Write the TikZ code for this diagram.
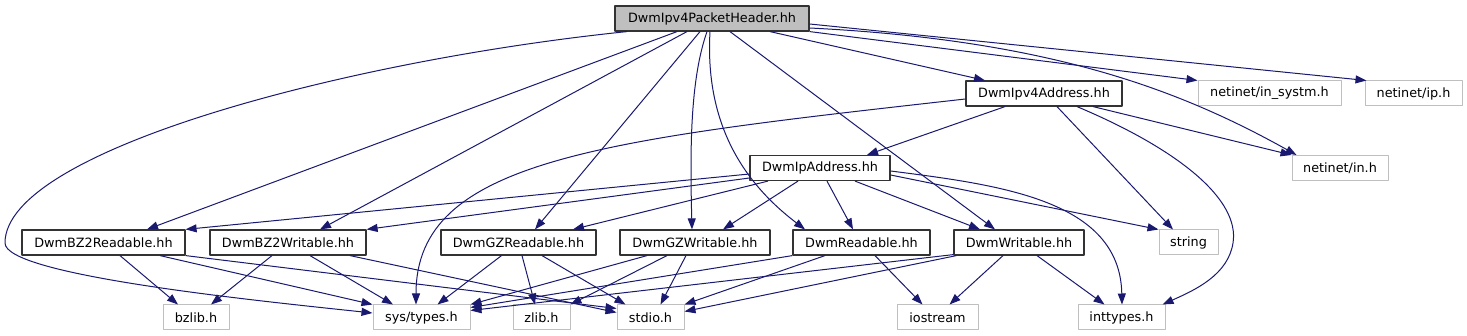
\documentclass[tikz,border=0pt]{standalone}
\usepackage{fontspec}
\setmainfont{DejaVu Sans}
\usetikzlibrary{arrows.meta}
\definecolor{edgeblue}{HTML}{191970}
\definecolor{boxgray}{HTML}{BFBFBF}

\begin{document}
\begin{tikzpicture}[x=1pt, y=-1pt, font=\fontsize{12.8}{15}\selectfont, line join=round,
	hdr/.style={draw=black!80, line width=1.2pt, rectangle, inner sep=0pt, minimum height=25pt, fill=white},
	sys/.style={hdr, draw=boxgray, line width=1pt},
	dep/.style={edgeblue, line width=1pt, -{Triangle[length=11pt, width=8pt]}}]

	\useasboundingbox (0,0) rectangle (1467,336);

	% --- headers ---
	\node[hdr, fill=boxgray, minimum width=194pt] (root) at (712,18.5) {DwmIpv4PacketHeader.hh};
	\node[hdr, minimum width=156pt] (ipv4) at (1044,93.5) {DwmIpv4Address.hh};
	\node[sys, minimum width=143pt] (insystm) at (1269.5,93.5) {netinet/in\_systm.h};
	\node[sys, minimum width=97pt] (ip) at (1413.5,93.5) {netinet/ip.h};
	\node[hdr, minimum width=140pt] (ipaddr) at (820,168) {DwmIpAddress.hh};
	\node[sys, minimum width=96pt] (in) at (1340,168) {netinet/in.h};

	\node[hdr, minimum width=163pt] (bzr) at (103.5,242.5) {DwmBZ2Readable.hh};
	\node[hdr, minimum width=156pt] (bzw) at (288,242.5) {DwmBZ2Writable.hh};
	\node[hdr, minimum width=155pt] (gzr) at (518.5,242.5) {DwmGZReadable.hh};
	\node[hdr, minimum width=150pt] (gzw) at (695,242.5) {DwmGZWritable.hh};
	\node[hdr, minimum width=137pt] (rd) at (861.5,242.5) {DwmReadable.hh};
	\node[hdr, minimum width=130pt] (wr) at (1019,242.5) {DwmWritable.hh};
	\node[sys, minimum width=59pt] (string) at (1188.5,242.5) {string};

	\node[sys, minimum width=66pt] (bzlib) at (196,317.5) {bzlib.h};
	\node[sys, minimum width=97pt] (systypes) at (421.5,317.5) {sys/types.h};
	\node[sys, minimum width=57pt] (zlib) at (541.5,317.5) {zlib.h};
	\node[sys, minimum width=67pt] (stdio) at (650.5,317.5) {stdio.h};
	\node[sys, minimum width=81pt] (iostream) at (937.5,317.5) {iostream};
	\node[sys, minimum width=87pt] (inttypes) at (1121.5,317.5) {inttypes.h};

	% --- DwmIpv4PacketHeader.hh ---
	\draw[dep] ([xshift=-85pt]root.south) .. controls (350,60) and (5,150) .. (5,243) .. controls (5,275) and (250,300) .. ([yshift=4.5pt]systypes.west);
	\draw[dep] ([xshift=-35pt]root.south) -- ([xshift=43.5pt]bzr.north);
	\draw[dep] ([xshift=-25pt]root.south) -- ([xshift=32pt]bzw.north);
	\draw[dep] ([xshift=-12pt]root.south) -- ([xshift=16.5pt]gzr.north);
	\draw[dep] ([xshift=-5pt]root.south) .. controls (690,80) and (690,150) .. ([xshift=-3pt]gzw.north);
	\draw[dep] ([xshift=-2pt]root.south) .. controls (705,120) and (740,180) .. ([xshift=-56.5pt]rd.north);
	\draw[dep] ([xshift=18pt]root.south) -- ([xshift=-24pt]wr.north);
	\draw[dep] ([xshift=58pt]root.south) -- ([xshift=-59pt]ipv4.north);
	\draw[dep] ([yshift=-5.5pt]root.east) -- ([xshift=2pt]ip.north west);
	\draw[dep] ([yshift=-9.5pt]root.east) .. controls (1050,40) and (1180,90) .. ([xshift=5pt]in.north west);
	\draw[dep] (root.south east) -- (insystm.north west);

	% --- DwmIpv4Address.hh ---
	\draw[dep] ([xshift=-39pt]ipv4.south) -- ([xshift=47pt]ipaddr.north);
	\draw[dep] ([yshift=-5.5pt]ipv4.west) .. controls (600,140) and (416,160) .. ([xshift=-5.5pt]systypes.north);
	\draw[dep] ([xshift=13pt]ipv4.south) -- ([xshift=-15.5pt]string.north);
	\draw[dep] ([xshift=49pt]ipv4.south) -- (in.north west);
	\draw[dep] ([xshift=33pt]ipv4.south) .. controls (1180,150) and (1240,200) .. (1233,243) .. controls (1228,275) and (1195,290) .. ([xshift=-3pt]inttypes.north east);

	% --- DwmIpAddress.hh ---
	\draw[dep] ([yshift=-6pt]ipaddr.west) -- (bzr.north east);
	\draw[dep] ([yshift=-10pt]ipaddr.west) -- (bzw.north east);
	\draw[dep] ([xshift=-52pt]ipaddr.south) -- ([xshift=54.5pt]gzr.north);
	\draw[dep] ([xshift=-22pt]ipaddr.south) -- ([xshift=28pt]gzw.north);
	\draw[dep] ([xshift=7pt]ipaddr.south) -- ([xshift=-8.5pt]rd.north);
	\draw[dep] ([xshift=35pt]ipaddr.south) -- ([xshift=-39pt]wr.north);
	\draw[dep] ([yshift=-7pt]ipaddr.east) -- (string.north west);
	\draw[dep] ([yshift=-3pt]ipaddr.east) .. controls (1000,185) and (1120,200) .. ([xshift=0.5pt]inttypes.north);

	% --- bottom row ---
	\draw[dep] ([xshift=16.5pt]bzr.south) -- ([xshift=-18pt]bzlib.north);
	\draw[dep] ([xshift=56.5pt]bzr.south) -- (systypes.north west);
	\draw[dep] (bzr.south east) -- ([yshift=9pt]stdio.west);
	\draw[dep] ([xshift=-16pt]bzw.south) -- ([xshift=15pt]bzlib.north);
	\draw[dep] ([xshift=22pt]bzw.south) -- ([xshift=-28.5pt]systypes.north);
	\draw[dep] ([xshift=62pt]bzw.south) -- ([yshift=5pt]stdio.west);

	\draw[dep] ([xshift=-17pt]gzr.south) -- ([xshift=16pt]systypes.north);
	\draw[dep] ([xshift=3.5pt]gzr.south) -- ([xshift=-6.5pt]zlib.north);
	\draw[dep] ([xshift=23.5pt]gzr.south) -- ([xshift=-25pt]stdio.north);
	\draw[dep] ([xshift=-48pt]gzw.south) -- (systypes.north east);
	\draw[dep] ([xshift=-28pt]gzw.south) -- (zlib.north east);
	\draw[dep] ([xshift=-9pt]gzw.south) -- ([xshift=10pt]stdio.north);

	\draw[dep] (rd.south west) -- ([yshift=10pt]systypes.east);
	\draw[dep] ([xshift=-36.5pt]rd.south) -- (stdio.north east);
	\draw[dep] ([xshift=13.5pt]rd.south) -- ([xshift=-15pt]iostream.north);
	\draw[dep] ([yshift=1pt]wr.south west) -- ([yshift=7pt]systypes.east);
	\draw[dep] ([xshift=3pt]wr.south west) -- ([yshift=6pt]stdio.east);
	\draw[dep] ([xshift=-16pt]wr.south) -- ([xshift=12pt]iostream.north);
	\draw[dep] ([xshift=18pt]wr.south) -- ([xshift=-17pt]inttypes.north);

\end{tikzpicture}
\end{document}
